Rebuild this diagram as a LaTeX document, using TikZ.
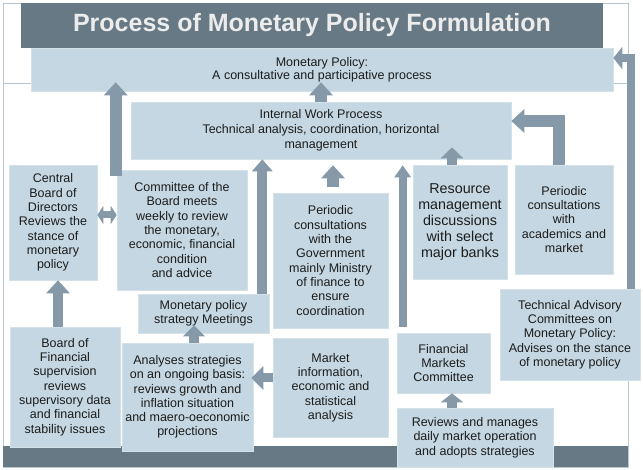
\documentclass[tikz,border=0pt]{standalone}
\usepackage{fontspec}
\setmainfont{Liberation Sans}
\usetikzlibrary{arrows.meta}
\definecolor{bargray}{RGB}{103,121,133}
\definecolor{boxblue}{RGB}{196,215,226}
\definecolor{boxedge}{RGB}{212,225,233}
\definecolor{arrowblue}{RGB}{133,153,168}
\definecolor{framegray}{RGB}{185,198,206}
\definecolor{titletext}{RGB}{236,236,236}
\definecolor{textdark}{RGB}{28,28,28}
\begin{document}
\begin{tikzpicture}[x=1pt,y=-1pt,
  box/.style={fill=boxblue,draw=boxedge,line width=0.6pt,inner sep=0pt,align=center,
    text=textdark,font=\fontsize{12.5}{14.3}\selectfont},
  fatarrow/.style={draw=arrowblue,line width=12pt,line join=miter,-{Triangle[length=13pt,width=23pt]}},
  thinarrow/.style={draw=arrowblue,line width=8pt,line join=miter,-{Triangle[length=12pt,width=16pt]}}]
  \useasboundingbox (0,0) rectangle (643,470);
  % frame and bars
  \draw[framegray,line width=0.8pt] (3,3) rectangle (628,467);
  \draw[framegray,line width=0.8pt] (3,83) -- (628,83);
  \fill[bargray] (3,446) rectangle (628,467);
  \node[fill=bargray,inner sep=0pt,minimum width=582pt,minimum height=45pt,text=titletext,
    font=\fontsize{25}{30}\selectfont\bfseries] at (312,25.5) (title) {Process of Monetary Policy Formulation};
  % boxes
  \node[box,minimum width=582pt,minimum height=43pt,font=\fontsize{12.5}{13}\selectfont] at (322,69.5) (mp)
    {Monetary Policy:\\A consultative and participative process};
  \node[box,minimum width=380pt,minimum height=57pt,font=\fontsize{12.5}{15}\selectfont] at (321,130.5) (iwp)
    {Internal Work Process\\Technical analysis, coordination, horizontal\\management};
  \node[box,minimum width=88pt,minimum height=115pt] at (53,222.5) (cbd)
    {Central\\Board of\\Directors\\Reviews the\\stance of\\monetary\\policy};
  \node[box,minimum width=130pt,minimum height=120pt] at (182,230) (cob)
    {Committee of the\\Board meets\\weekly to review\\the monetary,\\economic, financial\\condition\\and advice};
  \node[box,minimum width=115pt,minimum height=135pt] at (330.5,260.5) (pgov)
    {Periodic\\consultations\\with the\\Government\\mainly Ministry\\of finance to\\ensure\\coordination};
  \node[box,minimum width=94pt,minimum height=114pt,font=\fontsize{14.3}{16}\selectfont] at (460,222) (res)
    {Resource\\management\\discussions\\with select\\major banks};
  \node[box,minimum width=98pt,minimum height=109pt] at (564,219.5) (pacad)
    {Periodic\\consultations\\with\\academics and\\market};
  \node[box,minimum width=140pt,minimum height=91pt] at (570,334.5) (tac)
    {Technical Advisory\\Committees on\\Monetary Policy:\\Advises on the stance\\of monetary policy};
  \node[box,minimum width=131pt,minimum height=39pt] at (203.5,313.5) (mpsm)
    {Monetary policy\\strategy Meetings};
  \node[box,minimum width=110pt,minimum height=120pt] at (65,387) (bfs)
    {Board of\\Financial\\supervision\\reviews\\supervisory data\\and financial\\stability issues};
  \node[box,minimum width=131pt,minimum height=108pt] at (187.5,397) (ana)
    {Analyses strategies\\on an ongoing basis:\\reviews growth and\\inflation situation\\and maero-oeconomic\\projections};
  \node[box,minimum width=115pt,minimum height=99pt] at (330.5,387.5) (mkt)
    {Market\\information,\\economic and\\statistical\\analysis};
  \node[box,minimum width=93pt,minimum height=60pt] at (443.5,363) (fmc)
    {Financial\\Markets\\Committee};
  \node[box,minimum width=156pt,minimum height=59pt] at (475,437.5) (rev)
    {Reviews and manages\\daily market operation\\and adopts strategies};
  % arrow feet
  \coordinate (cobfoot) at ([xshift=-1pt,yshift=-6pt]cob.north west);
  \coordinate (mpsmup) at ([xshift=-7pt]mpsm.north east);
  \coordinate (pgovup) at ([xshift=2.5pt]pgov.north);
  \coordinate (fmcup) at ([xshift=6pt]fmc.north west);
  \coordinate (resup) at ([xshift=-8pt]res.north);
  \coordinate (pacadup) at ([xshift=-5pt]pacad.north);
  \coordinate (iwpin) at ([yshift=9.5pt]iwp.east);
  \coordinate (tacup) at ([xshift=61pt]tac.north);
  \coordinate (mpin) at ([yshift=11.5pt]mp.east);
  \coordinate (bfsup) at ([xshift=-7pt]bfs.north);
  \coordinate (anaup) at ([xshift=6.5pt]ana.north);
  \coordinate (mktout) at ([yshift=9.5pt]mkt.west);
  \coordinate (revup) at ([xshift=-23pt]rev.north);
  \coordinate (cbdout) at ([yshift=7.5pt]cbd.east);
  % arrows
  \draw[fatarrow,shorten >=-9pt] (cobfoot) -- (cobfoot |- mp.south);
  \draw[fatarrow,shorten >=-9pt] (iwp.north) -- (iwp.north |- mp.south);
  \draw[fatarrow,line width=10pt,-{Triangle[length=12pt,width=20pt]}] (mpsmup) -- (mpsmup |- iwp.south);
  \draw[fatarrow,shorten <=6pt,shorten >=6pt] (pgovup) -- (pgovup |- iwp.south);
  \draw[thinarrow,shorten <=6pt,shorten >=6pt] (fmcup) -- (fmcup |- iwp.south);
  \draw[fatarrow,line width=10pt,-{Triangle[length=11pt,width=22pt]},shorten >=-12pt] (resup) -- (resup |- iwp.south);
  \draw[fatarrow] (pacadup) |- (iwpin);
  \draw[thinarrow,-{Triangle[length=9pt,width=22pt]}] (tacup) |- (mpin);
  \draw[fatarrow,line width=10pt] (bfsup) -- (bfsup |- cbd.south);
  \draw[fatarrow,line width=10pt,-{Triangle[length=11pt,width=21pt]},shorten >=-8pt] (anaup) -- (anaup |- mpsm.south);
  \draw[fatarrow,line width=9pt,-{Triangle[length=12pt,width=23pt]},shorten >=-2pt] (mktout) -- (mktout -| ana.east);
  \draw[fatarrow,line width=10pt,-{Triangle[length=9pt,width=22pt]}] (revup) -- (revup |- fmc.south);
  \draw[draw=arrowblue,line width=7pt,{Triangle[length=6pt,width=18pt]}-{Triangle[length=6pt,width=18pt]}] (cbdout) -- (cbdout -| cob.west);
\end{tikzpicture}
\end{document}
